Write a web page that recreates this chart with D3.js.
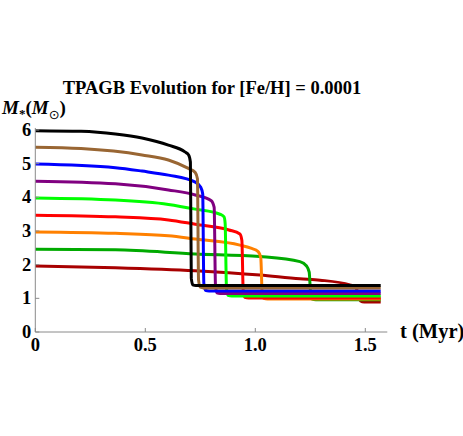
<!DOCTYPE html>
<html><head><meta charset="utf-8">
<script src="https://cdn.jsdelivr.net/npm/d3@7"></script>
<style>
html,body{margin:0;padding:0;background:#fff;}
svg{display:block;}
</style></head>
<body>
<script>
// ---- data ----
const title = "TPAGB Evolution for [Fe/H] = 0.0001";
const xTicks = [0, 0.5, 1.0, 1.5];
const xTickLabels = ["0", "0.5", "1.0", "1.5"];
const yTicks = [0, 1, 2, 3, 4, 5, 6];
const seriesNames = ["M2.0", "M2.5", "M3.0", "M3.5", "M4.0", "M4.5", "M5.0", "M5.5", "M6.0"];
const seriesColors = ["#a80000", "#00aa00", "#ff8000", "#ff0000", "#00ff00", "#800080", "#0000ff", "#996633", "#000000"];
const tM20 = [0, 0.364, 0.727, 1.021, 1.203, 1.294, 1.43, 1.455, 1.465, 1.471, 1.478, 1.495, 1.57];
const mM20 = [1.96, 1.91, 1.82, 1.69, 1.58, 1.54, 1.40, 1.33, 1.20, 1.08, 0.92, 0.89, 0.89];
const tM25 = [0, 0.364, 0.727, 1.021, 1.203, 1.233, 1.245, 1.251, 1.258, 1.275, 1.57];
const mM25 = [2.46, 2.44, 2.32, 2.24, 2.09, 1.96, 1.78, 1.18, 0.98, 0.96, 0.96];
const tM30 = [0, 0.364, 0.605, 0.727, 0.93, 0.98, 1.013, 1.025, 1.031, 1.038, 1.055, 1.57];
const mM30 = [2.97, 2.93, 2.86, 2.76, 2.58, 2.49, 2.39, 2.20, 1.20, 1.00, 0.98, 0.98];
const tM35 = [0, 0.364, 0.605, 0.727, 0.88, 0.93, 0.939, 0.945, 0.952, 0.97, 1.57];
const mM35 = [3.47, 3.42, 3.33, 3.20, 3.03, 2.91, 2.72, 1.23, 1.03, 1.01, 1.01];
const tM40 = [0, 0.364, 0.605, 0.727, 0.842, 0.858, 0.863, 0.869, 0.876, 0.893, 1.57];
const mM40 = [3.98, 3.92, 3.79, 3.65, 3.49, 3.42, 3.22, 1.30, 1.09, 1.07, 1.07];
const tM45 = [0, 0.364, 0.605, 0.727, 0.8, 0.813, 0.819, 0.826, 0.84, 1.57];
const mM45 = [4.48, 4.40, 4.22, 4.07, 3.90, 3.70, 1.38, 1.16, 1.14, 1.14];
const tM50 = [0, 0.364, 0.485, 0.605, 0.727, 0.752, 0.761, 0.766, 0.773, 0.79, 1.57];
const mM50 = [4.99, 4.88, 4.78, 4.66, 4.45, 4.30, 4.10, 1.45, 1.24, 1.22, 1.22];
const tM55 = [0, 0.208, 0.485, 0.605, 0.696, 0.727, 0.737, 0.742, 0.75, 0.765, 1.57];
const mM55 = [5.49, 5.45, 5.26, 5.11, 4.86, 4.74, 4.55, 1.55, 1.33, 1.31, 1.31];
const tM60 = [0, 0.208, 0.364, 0.485, 0.605, 0.68, 0.697, 0.705, 0.709, 0.716, 0.73, 1.57];
const mM60 = [5.98, 5.96, 5.88, 5.76, 5.55, 5.35, 5.26, 5.05, 1.60, 1.40, 1.38, 1.38];
const seriesT = [tM20, tM25, tM30, tM35, tM40, tM45, tM50, tM55, tM60];
const seriesM = [mM20, mM25, mM30, mM35, mM40, mM45, mM50, mM55, mM60];

// ---- drawing ----
const W = 463, H = 436;
const FONT = "Liberation Serif";
const svg = d3.select("body").append("svg").attr("width", W).attr("height", H);
const x = d3.scaleLinear().domain([0, 1.6]).range([35.3, 387.3]);
const y = d3.scaleLinear().domain([0, 6]).range([332, 130]);
const axisColor = "#8a8a8a";

// curves
const line = d3.line().x(d => x(d[0])).y(d => y(d[1])).curve(d3.curveMonotoneX);
seriesNames.forEach((name, i) => {
  const pts = seriesT[i].map((t, k) => [t, seriesM[i][k]]);
  svg.append("path").attr("d", line(pts))
    .attr("fill", "none").attr("stroke", seriesColors[i])
    .attr("stroke-width", 3).attr("stroke-linejoin", "round").attr("stroke-linecap", "butt");
});

// x axis
const gx = svg.append("g").attr("transform", `translate(0,${y(0)})`);
gx.append("line").attr("x1", x(0)).attr("x2", x(1.6)).attr("stroke", axisColor).attr("stroke-width", 1);
xTicks.forEach((t, i) => {
  gx.append("line").attr("x1", x(t)).attr("x2", x(t)).attr("y1", 0).attr("y2", -4).attr("stroke", axisColor);
  gx.append("text").attr("x", x(t)).attr("y", 18.5).attr("text-anchor", "middle")
    .attr("font-family", FONT).attr("font-size", 18.5).attr("font-weight", "bold").text(xTickLabels[i]);
});
svg.append("text").attr("x", 400).attr("y", 338).attr("font-family", FONT)
  .attr("font-size", 20.5).attr("font-weight", "bold").text("t (Myr)");

// y axis
const gy = svg.append("g").attr("transform", `translate(${x(0)},0)`);
gy.append("line").attr("y1", y(0)).attr("y2", y(6.06)).attr("stroke", axisColor).attr("stroke-width", 1);
yTicks.forEach(v => {
  gy.append("line").attr("x1", 0).attr("x2", 4).attr("y1", y(v)).attr("y2", y(v)).attr("stroke", axisColor);
  gy.append("text").attr("x", -4).attr("y", y(v) + 6).attr("text-anchor", "end")
    .attr("font-family", FONT).attr("font-size", 18.5).attr("font-weight", "bold").text(String(v));
});

// y label M*(M⊙)
const yl = svg.append("text").attr("x", 2).attr("y", 114).attr("font-family", FONT)
  .attr("font-size", 19).attr("font-weight", "bold");
yl.append("tspan").attr("font-style", "italic").text("M");
yl.append("tspan").attr("font-size", 13).attr("dy", 4).text("*");
yl.append("tspan").attr("dy", -4).text("(");
yl.append("tspan").attr("font-style", "italic").text("M");
yl.append("tspan").attr("font-size", 13).attr("dy", 5).attr("font-family", "DejaVu Sans").attr("font-weight", "normal").text("\u2299");
yl.append("tspan").attr("dy", -5).text(")");

// title
svg.append("text").attr("x", 212).attr("y", 94).attr("text-anchor", "middle").attr("font-family", FONT)
  .attr("font-size", 18.5).attr("font-weight", "bold").text(title);
</script>
</body></html>
